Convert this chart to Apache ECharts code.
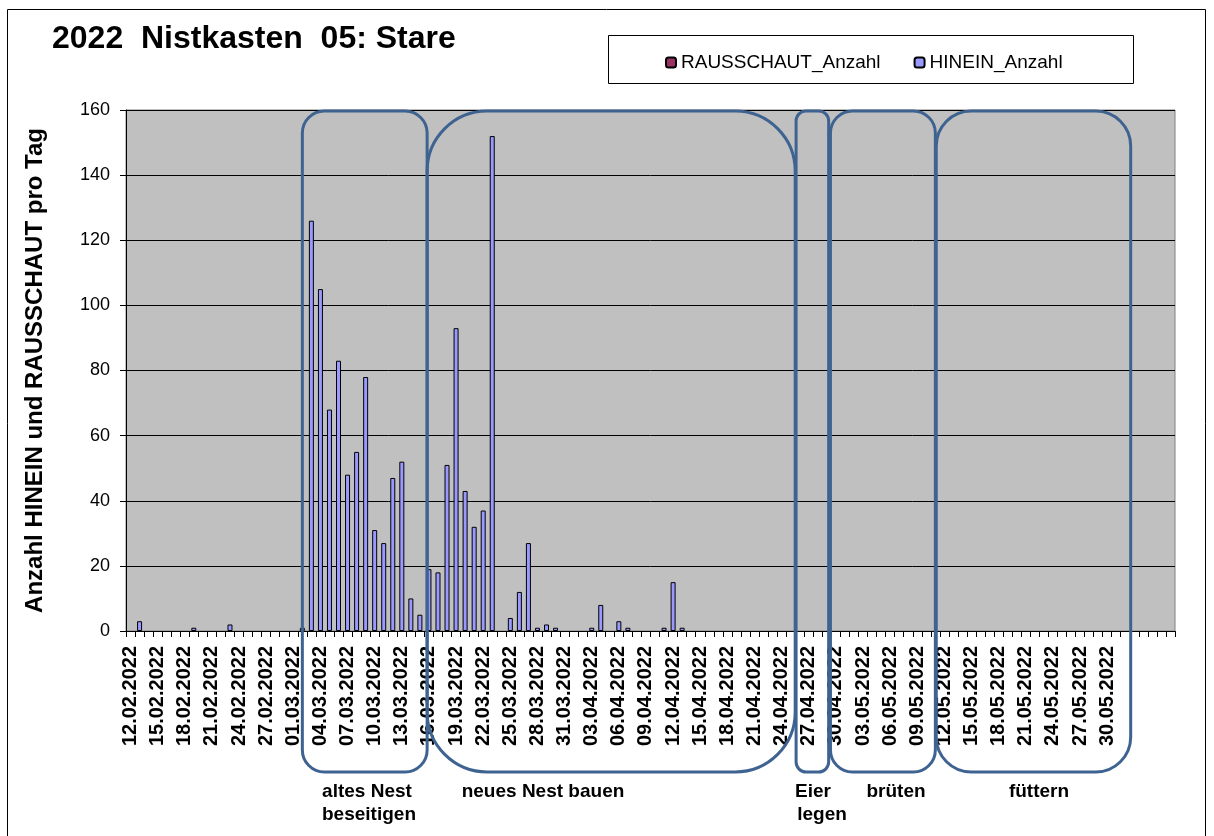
<!DOCTYPE html>
<html>
<head>
<meta charset="utf-8">
<title>2022 Nistkasten 05: Stare</title>
<script src="https://cdn.jsdelivr.net/npm/echarts@6/dist/echarts.min.js"></script>
<style>
  html, body { margin: 0; padding: 0; background: #ffffff; }
  #chart { width: 1214px; height: 836px; }
</style>
</head>
<body>
<div id="chart"></div>
<script>
// Tage auf der x-Achse (im Original steht der 28.02. zweimal, am Ende leere Zeilen)
const tage = [
  '12.02.2022','13.02.2022','14.02.2022','15.02.2022','16.02.2022','17.02.2022','18.02.2022','19.02.2022','20.02.2022','21.02.2022',
  '22.02.2022','23.02.2022','24.02.2022','25.02.2022','26.02.2022','27.02.2022','28.02.2022','28.02.2022',
  '01.03.2022','02.03.2022','03.03.2022','04.03.2022','05.03.2022','06.03.2022','07.03.2022','08.03.2022','09.03.2022','10.03.2022',
  '11.03.2022','12.03.2022','13.03.2022','14.03.2022','15.03.2022','16.03.2022','17.03.2022','18.03.2022','19.03.2022','20.03.2022',
  '21.03.2022','22.03.2022','23.03.2022','24.03.2022','25.03.2022','26.03.2022','27.03.2022','28.03.2022','29.03.2022','30.03.2022','31.03.2022',
  '01.04.2022','02.04.2022','03.04.2022','04.04.2022','05.04.2022','06.04.2022','07.04.2022','08.04.2022','09.04.2022','10.04.2022',
  '11.04.2022','12.04.2022','13.04.2022','14.04.2022','15.04.2022','16.04.2022','17.04.2022','18.04.2022','19.04.2022','20.04.2022',
  '21.04.2022','22.04.2022','23.04.2022','24.04.2022','25.04.2022','26.04.2022','27.04.2022','28.04.2022','29.04.2022','30.04.2022',
  '01.05.2022','02.05.2022','03.05.2022','04.05.2022','05.05.2022','06.05.2022','07.05.2022','08.05.2022','09.05.2022','10.05.2022',
  '11.05.2022','12.05.2022','13.05.2022','14.05.2022','15.05.2022','16.05.2022','17.05.2022','18.05.2022','19.05.2022','20.05.2022',
  '21.05.2022','22.05.2022','23.05.2022','24.05.2022','25.05.2022','26.05.2022','27.05.2022','28.05.2022','29.05.2022','30.05.2022','31.05.2022',
  '', '', '', '', '', ''
];

// HINEIN pro Tag (null = kein Balken)
const hineinAnzahl = [
  null, 3, null, null, null, null, null, 1, null, null,
  null, 2, null, null, null, null, null, null, null, 1,
  126, 105, 68, 83, 48, 55, 78, 31, 27, 47,
  52, 10, 5, 19, 18, 51, 93, 43, 32, 37,
  152, null, 4, 12, 27, 1, 2, 1, null, null,
  null, 1, 8, null, 3, 1, null, null, null, 1,
  15, 1
];

// RAUSSCHAUT pro Tag: im Bild keine Balken sichtbar
const rausschautAnzahl = [];

// Phasen (Grenzen in Kategorien, Bezeichnung darunter)
const phaseStart = [19.5, 33.3, 74.1, 77.9, 89.6];
const phaseEnde = [33.3, 74.0, 77.7, 89.5, 111.1];
const phaseRadius = [22, 60, 10, 22, 35];
const phaseText = [
  ['altes Nest', 'beseitigen'],
  ['neues Nest bauen'],
  ['Eier', 'legen'],
  ['brüten'],
  ['füttern']
];
const phaseTextX = [[367, 369], [543], [813, 822], [896], [1039]];

const schrift = 'Liberation Sans, Arial, sans-serif';

const chart = echarts.init(document.getElementById('chart'));

function getOption() {
  return {
    backgroundColor: '#ffffff',
    animation: false,
    title: {
      text: '2022  Nistkasten  05: Stare',
      left: 47,
      top: 18,
      textStyle: { fontFamily: schrift, fontSize: 32, fontWeight: 'bold', color: '#000' }
    },
    legend: {
      left: 660,
      top: 48,
      itemWidth: 10,
      itemHeight: 10,
      itemGap: 33,
      textStyle: { fontFamily: schrift, fontSize: 19, color: '#000' },
      data: ['RAUSSCHAUT_Anzahl', 'HINEIN_Anzahl']
    },
    grid: {
      left: 126,
      top: 110,
      width: 1049,
      height: 521,
      show: true,
      backgroundColor: '#c0c0c0',
      borderColor: '#808080',
      borderWidth: 1
    },
    xAxis: {
      type: 'category',
      data: tage,
      axisLine: { lineStyle: { color: '#000', width: 1 } },
      axisTick: { show: true, interval: 0, length: 6, lineStyle: { color: '#000' } },
      axisLabel: {
        interval: 2,
        rotate: 90,
        margin: 15,
        fontFamily: schrift,
        fontSize: 20,
        fontWeight: 'bold',
        color: '#000'
      }
    },
    yAxis: {
      type: 'value',
      min: 0,
      max: 160,
      interval: 20,
      name: 'Anzahl HINEIN und RAUSSCHAUT pro Tag',
      nameLocation: 'middle',
      nameGap: 79,
      nameTextStyle: { fontFamily: schrift, fontSize: 24, fontWeight: 'bold', color: '#000' },
      axisLine: { show: true, lineStyle: { color: '#000' } },
      axisTick: { show: true, length: 6, lineStyle: { color: '#000' } },
      axisLabel: { fontFamily: schrift, fontSize: 18, color: '#000', margin: 16 },
      splitLine: { lineStyle: { color: '#000', width: 1 } }
    },
    series: [
      {
        name: 'RAUSSCHAUT_Anzahl',
        type: 'bar',
        data: rausschautAnzahl,
        barWidth: 5,
        barGap: '-100%',
        itemStyle: { color: '#993366', borderColor: '#000', borderWidth: 1 }
      },
      {
        name: 'HINEIN_Anzahl',
        type: 'bar',
        data: hineinAnzahl,
        barWidth: 5,
        barGap: '-100%',
        itemStyle: { color: '#9999ff', borderColor: '#000', borderWidth: 1 }
      }
    ]
  };
}

chart.setOption(getOption());

// Rahmen, Legendenkasten und Phasen-Kästen
function getGraphic() {
  const c0 = chart.convertToPixel({ xAxisIndex: 0 }, 0);
  const c1 = chart.convertToPixel({ xAxisIndex: 0 }, 1);
  const w = c1 - c0;
  const links = c0 - w / 2;
  const elemente = [
    {
      type: 'rect', z: -10, silent: true,
      shape: { x: 7.5, y: 9.5, width: 1198, height: 840 },
      style: { fill: 'none', stroke: '#000', lineWidth: 1 }
    },
    {
      type: 'rect', z: -10, silent: true,
      shape: { x: 608.5, y: 35.5, width: 525, height: 48 },
      style: { fill: '#fff', stroke: '#000', lineWidth: 1 }
    }
  ];
  for (let i = 0; i < phaseStart.length; i++) {
    const x1 = links + phaseStart[i] * w;
    const x2 = links + phaseEnde[i] * w;
    elemente.push({
      type: 'rect', z: 100, silent: true,
      shape: { x: x1, y: 111, width: x2 - x1, height: 661, r: phaseRadius[i] },
      style: { fill: 'none', stroke: '#3f6391', lineWidth: 3 }
    });
    phaseText[i].forEach((t, j) => {
      elemente.push({
        type: 'text', z: 100, silent: true,
        x: phaseTextX[i][j],
        y: 792 + j * 23,
        style: {
          text: t,
          align: 'center',
          verticalAlign: 'middle',
          fontFamily: schrift,
          fontSize: 19,
          fontWeight: 'bold',
          fill: '#000'
        }
      });
    });
  }
  return elemente;
}

chart.setOption({ graphic: getGraphic() });
</script>
</body>
</html>
